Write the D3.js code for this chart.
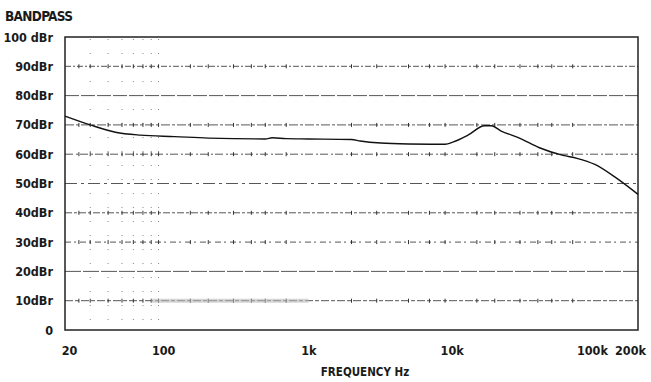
<!DOCTYPE html>
<html><head><meta charset="utf-8">
<script src="https://cdn.jsdelivr.net/npm/d3@7"></script>
<style>
body{margin:0;background:#fff;}
text{font-family:"DejaVu Sans Condensed","DejaVu Sans",sans-serif;font-weight:bold;fill:#1a1a1a;}
</style></head>
<body><svg id="c" width="651" height="382"></svg>
<script>
// ---- data ----
const yTickValues = [0,10,20,30,40,50,60,70,80,90,100];
const yTickLabels = ["0","10dBr","20dBr","30dBr","40dBr","50dBr","60dBr","70dBr","80dBr","90dBr","100 dBr"];
const xTickValues = [20,100,1000,10000,100000,200000];
const xTickLabels = ["20","100","1k","10k","100k","200k"];
const freqHz = [20,30,45,67,117,200,300,500,560,700,1000,2000,2300,3200,5000,9000,10300,13000,17000,19000,22000,30000,41000,60000,75000,100000,140000,200000];
const levelDb = [73,70,67.5,66.5,66,65.5,65.3,65.2,65.6,65.3,65.2,65.0,64.5,63.8,63.5,63.4,64.2,66.5,69.7,69.7,68,65.4,62.2,59.6,58.6,56.5,52,46.3];
const crossFreqs = [25,30,40,50,60,70,80,90,150,200,300,400,500,700,2000,3000,5000,7000,9000,15000,20000,30000,40000,50000,70000];

const svg = d3.select("#c");
const L=65,R=638,T=37,B=330;
const x = d3.scaleLog().domain([20,200000]).range([L,R]);
const y = d3.scaleLinear().domain([0,100]).range([B,T]);

// gridlines
const dashFor = v => ({90:"6 2 2 2",80:"14 2",70:"9 2 3 2",60:"8 3 2 2",50:"12 4 3 4",40:"7 2 3 2",30:"6 3 2 4",20:"16 2",10:"8 2 4 2"})[v];
const grid = svg.append("g");
yTickValues.filter(v=>v>0&&v<100).forEach(v=>{
  grid.append("line").attr("x1",L).attr("x2",R).attr("y1",y(v)).attr("y2",y(v))
    .attr("stroke","#444").attr("stroke-width",0.9).attr("stroke-dasharray",dashFor(v));
  if([90,70,60,40,30,10].includes(v)){
    grid.selectAll(null).data(crossFreqs).enter().append("line")
      .attr("x1",d=>x(d)).attr("x2",d=>x(d)).attr("y1",y(v)-2).attr("y2",y(v)+2)
      .attr("stroke","#333").attr("stroke-width",1);
  }
});
// sparse vertical dots (faded minor grid)
const dotFreqs=[30,40,50,60,70,80,90];
dotFreqs.forEach(f=>{
  grid.append("line").attr("x1",x(f)).attr("x2",x(f)).attr("y1",T+2).attr("y2",B)
    .attr("stroke","#555").attr("stroke-width",1).attr("stroke-dasharray","1 13").attr("opacity",0.7);
});
// faded grey band on 10 dBr line (scan artefact)
grid.append("line").attr("x1",x(80)).attr("x2",x(1000)).attr("y1",y(10)).attr("y2",y(10))
  .attr("stroke","#bbb").attr("stroke-width",4).attr("opacity",0.6);

// frame
svg.append("rect").attr("x",L).attr("y",T).attr("width",R-L).attr("height",B-T)
  .attr("fill","none").attr("stroke","#222").attr("stroke-width",1.5);

// axes
const yAxis = d3.axisLeft(y).tickValues(yTickValues).tickSize(0).tickPadding(12)
  .tickFormat((d,i)=>yTickLabels[i]);
svg.append("g").attr("transform",`translate(${L},0)`).call(yAxis)
  .call(g=>g.select(".domain").remove())
  .selectAll("text").style("font-size","12.5px").attr("fill","#1a1a1a");
const xAxis = d3.axisBottom(x).tickValues(xTickValues).tickSize(0).tickPadding(16)
  .tickFormat((d,i)=>xTickLabels[i]);
const xg = svg.append("g").attr("transform",`translate(0,${B})`).call(xAxis);
xg.select(".domain").remove();
xg.selectAll("text").style("font-size","12.5px").attr("fill","#1a1a1a")
  .attr("dx",(d,i)=>[4,-2,0,0,-3,-8][i]);

// curve
svg.append("path").datum(freqHz.map((f,i)=>[f,levelDb[i]]))
  .attr("d",d3.line().x(d=>x(d[0])).y(d=>y(d[1])).curve(d3.curveMonotoneX))
  .attr("fill","none").attr("stroke","#111").attr("stroke-width",1.4);

// titles
svg.append("text").attr("x",5).attr("y",21).style("font-size","13.5px").attr("textLength",68).text("BANDPASS");
svg.append("text").attr("x",365).attr("y",376).attr("text-anchor","middle").style("font-size","11.5px").text("FREQUENCY Hz");
</script></body></html>
